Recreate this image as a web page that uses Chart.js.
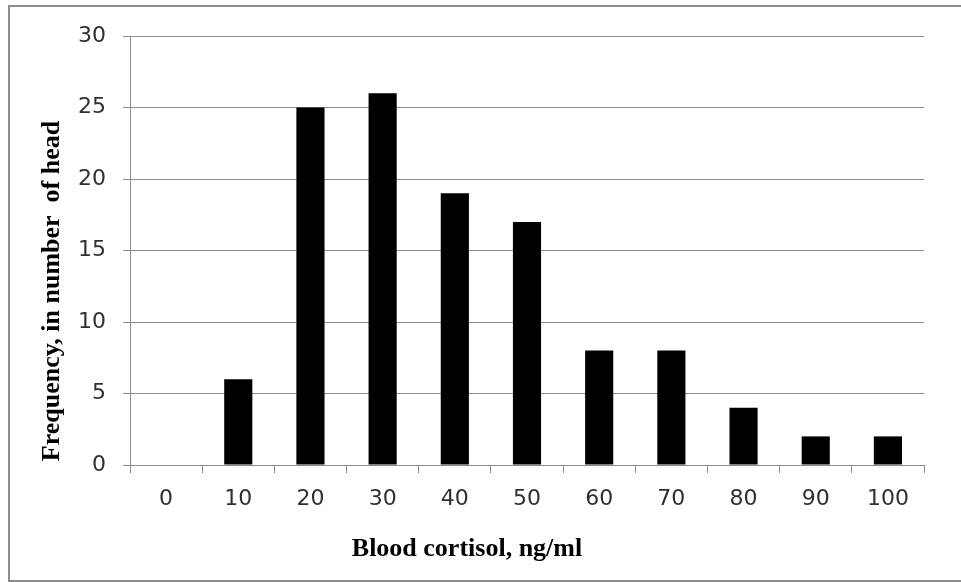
<!DOCTYPE html>
<html>
<head>
<meta charset="utf-8">
<script src="https://cdn.jsdelivr.net/npm/chart.js@4.4.0/dist/chart.umd.min.js"></script>
<style>
html,body{margin:0;padding:0;background:#fff;}
#wrap{width:961px;height:582px;position:relative;}
</style>
</head>
<body>
<div id="wrap"><canvas id="c" width="961" height="582"></canvas></div>
<script>
const categories = ['0','10','20','30','40','50','60','70','80','90','100'];
const frequency = [0, 6, 25, 26, 19, 17, 8, 8, 4, 2, 2];
const yTicks = [0, 5, 10, 15, 20, 25, 30];
const xTitle = 'Blood cortisol, ng/ml';
const yTitle = 'Frequency, in number  of head';

const decor = {
  id: 'decor',
  beforeDraw(chart) {
    const ctx = chart.ctx;
    ctx.save();
    ctx.fillStyle = '#fff';
    ctx.fillRect(0, 0, chart.width, chart.height);
    ctx.strokeStyle = '#8c8c8c';
    ctx.lineWidth = 2;
    ctx.strokeRect(9, 6, 1000, 575);
    ctx.restore();
  },
  afterDraw(chart) {
    const ctx = chart.ctx;
    ctx.save();
    ctx.fillStyle = '#000';
    ctx.font = 'bold 26px "Liberation Serif", "Times New Roman", serif';
    ctx.textAlign = 'center';
    ctx.textBaseline = 'alphabetic';
    ctx.fillText(xTitle, 467, 556);
    ctx.translate(59, 291);
    ctx.rotate(-Math.PI / 2);
    ctx.fillText(yTitle, 0, 0);
    ctx.restore();
  }
};

new Chart(document.getElementById('c'), {
  type: 'bar',
  data: {
    labels: categories,
    datasets: [{
      data: frequency,
      backgroundColor: '#000',
      borderWidth: 0,
      barPercentage: 0.39,
      categoryPercentage: 1.0
    }]
  },
  options: {
    responsive: false,
    animation: false,
    devicePixelRatio: 1,
    layout: { padding: { top: 36, right: 37, left: 0, bottom: 0 } },
    plugins: { legend: { display: false }, tooltip: { enabled: false } },
    scales: {
      x: {
        grid: { display: true, drawOnChartArea: false, offset: true, color: '#8c8c8c', tickLength: 8, lineWidth: 1 },
        border: { display: true, color: '#8c8c8c', width: 1 },
        ticks: { color: '#303030', font: { family: '"DejaVu Sans"', size: 22 }, padding: 13, maxRotation: 0 },
        afterFit(scale) { scale.height = 582 - 465; }
      },
      y: {
        min: 0, max: 30,
        afterBuildTicks(scale) { scale.ticks = yTicks.map(v => ({ value: v })); },
        grid: { color: '#8c8c8c', tickLength: 7, lineWidth: 1 },
        border: { display: true, color: '#8c8c8c', width: 1 },
        ticks: { color: '#303030', font: { family: '"DejaVu Sans"', size: 22 }, padding: 17 },
        afterFit(scale) { scale.width = 130; }
      }
    }
  },
  plugins: [decor]
});
</script>
</body>
</html>
